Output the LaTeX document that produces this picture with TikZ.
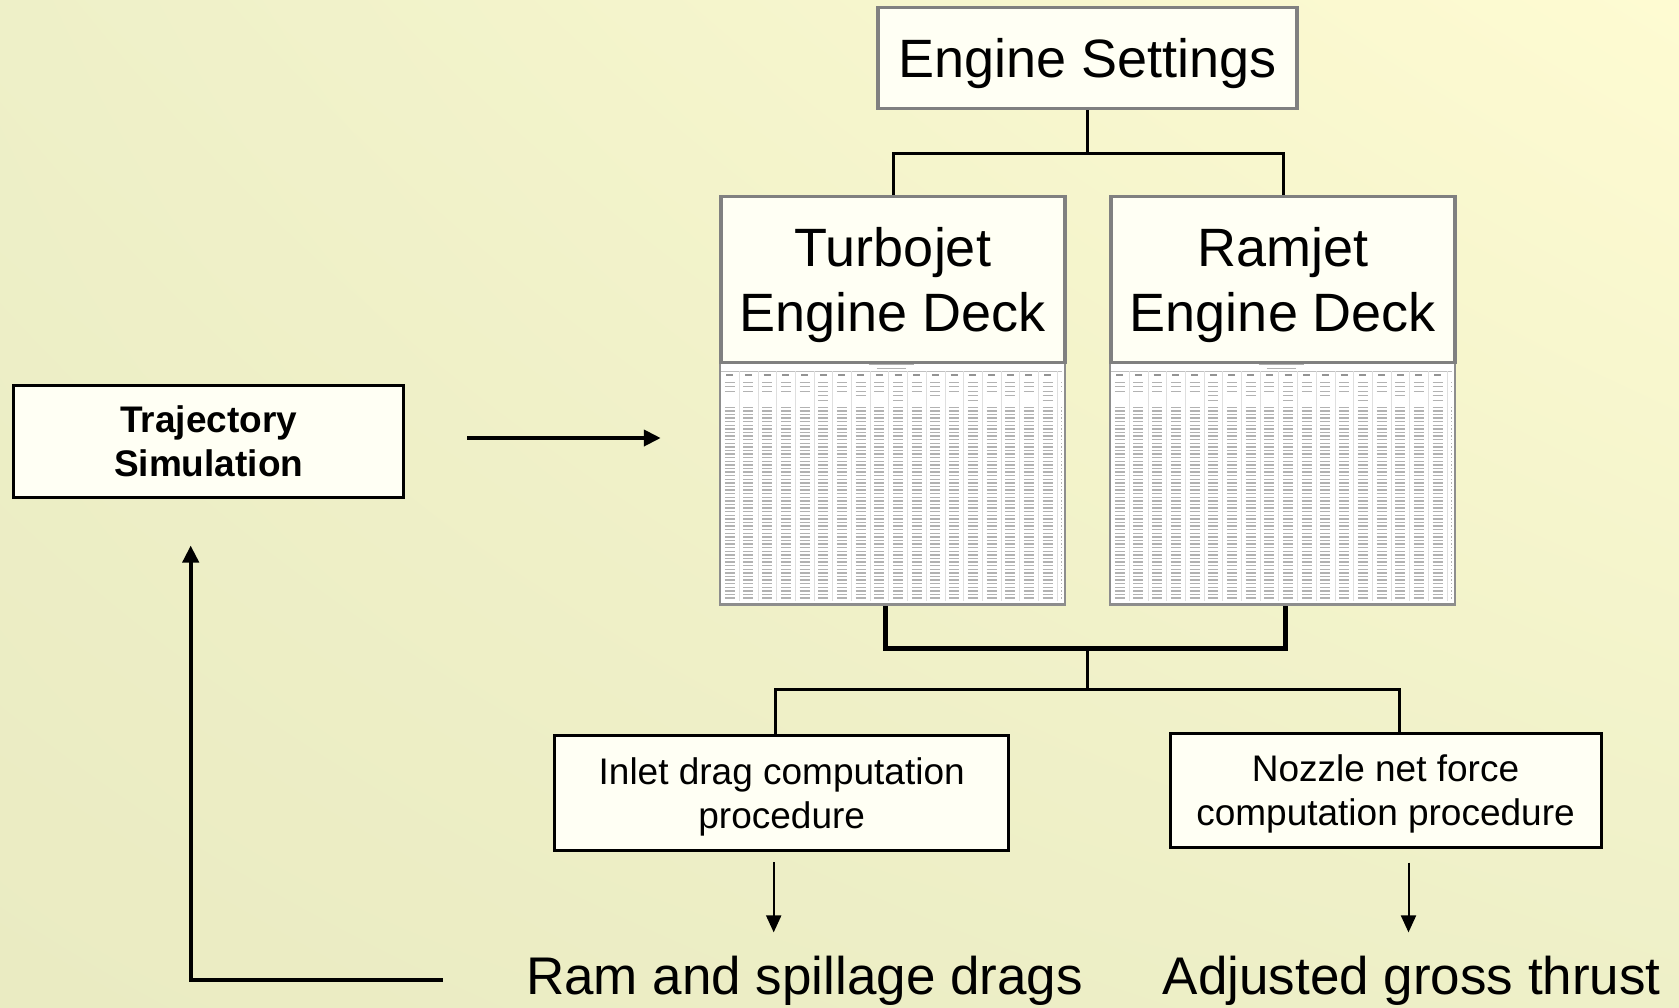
\documentclass[tikz,border=0pt]{standalone}
\usepackage{fontspec}
\setmainfont{Liberation Sans}
\usetikzlibrary{arrows.meta,shadings}
\definecolor{bgtopright}{HTML}{FEFBD2}
\definecolor{bgleft}{HTML}{EEF0C8}
\definecolor{bgbottom}{HTML}{EAEBC2}
\definecolor{boxfill}{HTML}{FFFFF4}
\definecolor{deckgray}{HTML}{808080}

\begin{document}
\begin{tikzpicture}[x=1pt,y=-1pt,
  plainbox/.style={draw=black,line width=3pt,fill=boxfill,align=center,inner sep=0pt,text depth=0pt},
  deckbox/.style={draw=deckgray,line width=3.5pt,fill=boxfill,align=center,inner sep=0pt,text depth=0pt,font=\fontsize{54}{65}\selectfont},
  sheet/.style={draw=deckgray!90,line width=2.5pt,fill=white,minimum width=345pt,minimum height=242pt,inner sep=0pt},
  link/.style={draw=black,line width=3pt},
  fat/.style={draw=black,line width=5pt},
  arr/.style={-{Triangle[length=17pt,width=16pt]},line width=4pt},
  thinarr/.style={-{Triangle[length=17pt,width=15pt]},line width=2pt},
  figrow/.style={draw=gray!60,line width=1.3pt,dash pattern=on 10pt off 8.7pt},
  bigtext/.style={font=\fontsize{53}{64}\selectfont,inner sep=0pt},
  boxtext/.style={font=\fontsize{37}{44.5}\selectfont}
]
\useasboundingbox (0,0) rectangle (1679,1007);
\shade[upper left=bgleft,upper right=bgtopright,lower left=bgbottom,lower right=bgleft] (0,0) rectangle (1679,1007);

\node[sheet] (tabT) at (892.5,483.5) {};
\node[sheet] (tabR) at (1282.5,483.5) {};
\foreach \t in {tabT,tabR}{
  \begin{scope}[shift={(\t.north west)}]
    \draw[gray!60,line width=0.8pt] (150,3) -- (195,3) (158,7) -- (187,7);
    \draw[gray!50,line width=0.8pt] (2,10) -- (343,10);
    \draw[gray!85,line width=1.8pt,dash pattern=on 7pt off 11.7pt] (7.5,14) -- (343,14);
    \foreach \y in {21,25.5,30} \draw[figrow] (6,\y) -- (343,\y);
    \draw[figrow,dash pattern=on 10pt off 27.4pt] (99.5,34.5) -- (343,34.5);
    \draw[figrow,dash pattern=on 10pt off 64.8pt] (99.5,39) -- (343,39);
    \foreach \y in {46,49.6,...,238} \draw[figrow] (6,\y) -- (343,\y);
    \foreach \x in {20.35,39.05,...,340} \draw[gray!25,line width=0.6pt] (\x,10) -- (\x,240);
  \end{scope}}

\node[deckbox,minimum width=419pt,minimum height=101pt] (es) at (1087.5,58) {Engine Settings};
\node[deckbox,minimum width=344pt,minimum height=166pt] (turbo) at (893,279.3) {Turbojet\\Engine Deck};
\node[deckbox,minimum width=344pt,minimum height=166pt] (ramjet) at (1283,279.3) {Ramjet\\Engine Deck};
\node[plainbox,minimum width=390pt,minimum height=112pt,font=\bfseries\fontsize{37}{44.5}\selectfont] (traj) at (208.7,441) {Trajectory\\Simulation};
\node[plainbox,boxtext,minimum width=454pt,minimum height=115pt] (inlet) at (781.7,793.3) {Inlet drag computation\\procedure};
\node[plainbox,boxtext,minimum width=431pt,minimum height=114pt] (nozzle) at (1385.5,790) {Nozzle net force\\computation procedure};
\node[bigtext,anchor=base] (ramdrag) at (804.5,994) {Ram and spillage drags};
\node[bigtext,anchor=base] (thrust) at (1411.7,994) {Adjusted gross thrust};

\coordinate (esj) at (es.south |- 0,153);
\draw[link] (es.south) -- (esj) -| (turbo.north);
\draw[link] (esj) -| (ramjet.north);
\draw[fat] ([xshift=-7pt]tabT.south) |- ([xshift=3pt]tabR.south |- 0,648) -- ([xshift=3pt]tabR.south);
\draw[link] (es.south |- 0,648) -- (es.south |- 0,689);
\draw[link] ([xshift=-6pt]inlet.north) |- ([xshift=13.5pt]nozzle.north |- 0,689) -- ([xshift=13.5pt]nozzle.north);

\draw[arr,shorten <=62pt,shorten >=58pt] ([yshift=3pt]traj.east) -- ([yshift=3pt]traj.east -| tabT.west);
\draw[arr,shorten <=83pt,shorten >=47pt] (ramdrag.west) -| ([xshift=-18pt]traj.south);
\draw[thinarr,shorten <=10pt,shorten >=23pt] ([xshift=-8pt]inlet.south) -- ([xshift=-8pt]inlet.south |- ramdrag.north);
\draw[thinarr,shorten <=14pt,shorten >=23pt] ([xshift=23pt]nozzle.south) -- ([xshift=23pt]nozzle.south |- thrust.north);
\end{tikzpicture}
\end{document}
